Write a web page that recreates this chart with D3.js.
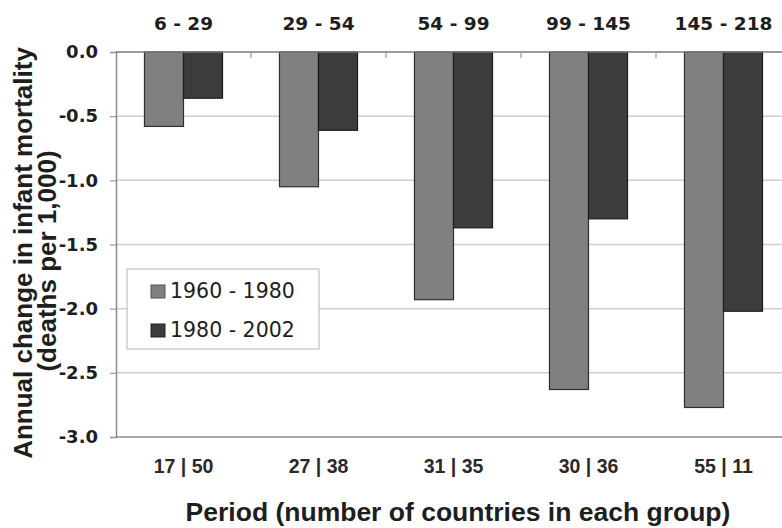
<!DOCTYPE html>
<html>
<head>
<meta charset="utf-8">
<script src="https://cdn.jsdelivr.net/npm/d3@7"></script>
<style>
  body { margin: 0; background: #fff; }
  svg { display: block; }
</style>
</head>
<body>
<script>
// data
const groups = ["6 - 29", "29 - 54", "54 - 99", "99 - 145", "145 - 218"];
const countLabels = ["17 | 50", "27 | 38", "31 | 35", "30 | 36", "55 | 11"];
const series = ["1960 - 1980", "1980 - 2002"];
const early = [-0.58, -1.05, -1.93, -2.63, -2.77];
const late = [-0.36, -0.61, -1.37, -1.30, -2.02];
const yTicks = [0, -0.5, -1.0, -1.5, -2.0, -2.5, -3.0];

var width = 782, height = 528;
// plot box (note: "top" is reserved on window, so use plot* names)
var plotLeft = 116, plotRight = 791, plotTop = 52, plotBottom = 437;

var fills = ["#808080", "#3c3c3c"];
var strokes = ["#2e2e2e", "#1c1c1c"];

var svg = d3.select("body").append("svg")
  .attr("width", width)
  .attr("height", height)

var x0 = d3.scaleBand().domain(groups).range([plotLeft, plotRight]).padding(0)
var x1 = d3.scaleBand().domain(series).range([0, x0.bandwidth()])
  .paddingInner(0).paddingOuter(0.73)
var y = d3.scaleLinear().domain([0, -3]).range([plotTop, plotBottom])

// gridlines
svg.append("g")
  .selectAll("line")
  .data(yTicks.filter(d => d != 0 && d != -3))
  .enter().append("line")
  .attr("x1", plotLeft).attr("x2", plotRight)
  .attr("y1", d => y(d)).attr("y2", d => y(d))
  .attr("stroke", "#cfcfcf")
  .attr("stroke-width", 1.5)

// left axis
var yAxis = svg.append("g")
  .attr("transform", `translate(${plotLeft},0)`)
  .call(d3.axisLeft(y).tickValues(yTicks).tickSize(6).tickPadding(12))
yAxis.select(".domain").attr("stroke", "#8a8a8a").attr("stroke-width", 1.5)
yAxis.selectAll(".tick line").attr("stroke", "#9a9a9a").attr("stroke-width", 1.2)
yAxis.selectAll("text")
  .attr("fill", "#1e1e1e")
  .style("font-family", "DejaVu Sans")
  .style("font-weight", "bold")
  .style("font-size", "18px")
  .text(d => d == 0 ? "0.0" : d.toFixed(1))

// bottom frame line at -3.0
svg.append("line")
  .attr("x1", plotLeft).attr("x2", plotRight)
  .attr("y1", y(-3)).attr("y2", y(-3))
  .attr("stroke", "#8a8a8a").attr("stroke-width", 1.5)

// bars
var g = svg.selectAll(".grp")
  .data(groups)
  .enter().append("g")
  .attr("class", "grp")
  .attr("transform", d => `translate(${x0(d)},0)`)

g.selectAll("rect")
  .data((d, i) => [{s: series[0], v: early[i], k: 0}, {s: series[1], v: late[i], k: 1}])
  .enter().append("rect")
  .attr("x", d => x1(d.s))
  .attr("width", x1.bandwidth())
  .attr("y", y(0))
  .attr("height", d => y(d.v) - y(0))
  .attr("fill", d => fills[d.k])
  .attr("stroke", d => strokes[d.k])
  .attr("stroke-width", 1.2)

// zero line on top, with tick marks hanging down at band edges
var topAxis = svg.append("g")
  .attr("transform", `translate(0,${y(0)})`)
topAxis.append("line")
  .attr("x1", plotLeft).attr("x2", plotRight)
  .attr("stroke", "#7a7a7a").attr("stroke-width", 1.5)
topAxis.selectAll(".tk")
  .data(groups.slice(1))
  .enter().append("line")
  .attr("class", "tk")
  .attr("x1", d => x0(d)).attr("x2", d => x0(d))
  .attr("y1", 0).attr("y2", 6)
  .attr("stroke", "#9a9a9a").attr("stroke-width", 1.2)

// group labels above the plot
svg.selectAll(".toplab")
  .data(groups)
  .enter().append("text")
  .attr("class", "toplab")
  .attr("x", d => x0(d) + x0.bandwidth() / 2)
  .attr("y", 30)
  .attr("text-anchor", "middle")
  .attr("fill", "#1e1e1e")
  .style("font-family", "DejaVu Sans")
  .style("font-weight", "bold")
  .style("font-size", "18.5px")
  .text(d => d)

// country counts under the plot
svg.selectAll(".botlab")
  .data(countLabels)
  .enter().append("text")
  .attr("class", "botlab")
  .attr("x", (d, i) => x0(groups[i]) + x0.bandwidth() / 2)
  .attr("y", 473)
  .attr("text-anchor", "middle")
  .attr("fill", "#2a2a2a")
  .style("font-family", "Liberation Sans, Arial")
  .style("font-weight", "bold")
  .style("font-size", "19.5px")
  .text(d => d)

// axis titles
svg.append("text")
  .attr("x", 458)
  .attr("y", 521)
  .attr("text-anchor", "middle")
  .attr("fill", "#1e1e1e")
  .style("font-family", "Liberation Sans, Arial")
  .style("font-weight", "bold")
  .style("font-size", "26.5px")
  .text("Period (number of countries in each group)")

svg.append("text")
  .attr("transform", "translate(32,253) rotate(-90)")
  .attr("text-anchor", "middle")
  .attr("fill", "#1e1e1e")
  .style("font-family", "Liberation Sans, Arial")
  .style("font-weight", "bold")
  .style("font-size", "26px")
  .text("Annual change in infant mortality")

svg.append("text")
  .attr("transform", "translate(56,261) rotate(-90)")
  .attr("text-anchor", "middle")
  .attr("fill", "#1e1e1e")
  .style("font-family", "Liberation Sans, Arial")
  .style("font-weight", "bold")
  .style("font-size", "26px")
  .text("(deaths per 1,000)")

// legend
var legend = svg.append("g")
legend.append("rect")
  .attr("x", 127).attr("y", 269)
  .attr("width", 192).attr("height", 80)
  .attr("fill", "#fff")
  .attr("stroke", "#c4c4c4")
  .attr("stroke-width", 1.3)

var item = legend.selectAll(".item")
  .data(series)
  .enter().append("g")
  .attr("class", "item")
  .attr("transform", (d, i) => `translate(151,${285 + i * 39})`)
item.append("rect")
  .attr("width", 14).attr("height", 13)
  .attr("fill", (d, i) => fills[i])
  .attr("stroke", (d, i) => i == 0 ? "#555" : "#222")
  .attr("stroke-width", 1)
item.append("text")
  .attr("x", 19)
  .attr("y", 13)
  .attr("fill", "#1e1e1e")
  .style("font-family", "DejaVu Sans")
  .style("font-size", "20.5px")
  .text(d => d)
</script>
</body>
</html>
